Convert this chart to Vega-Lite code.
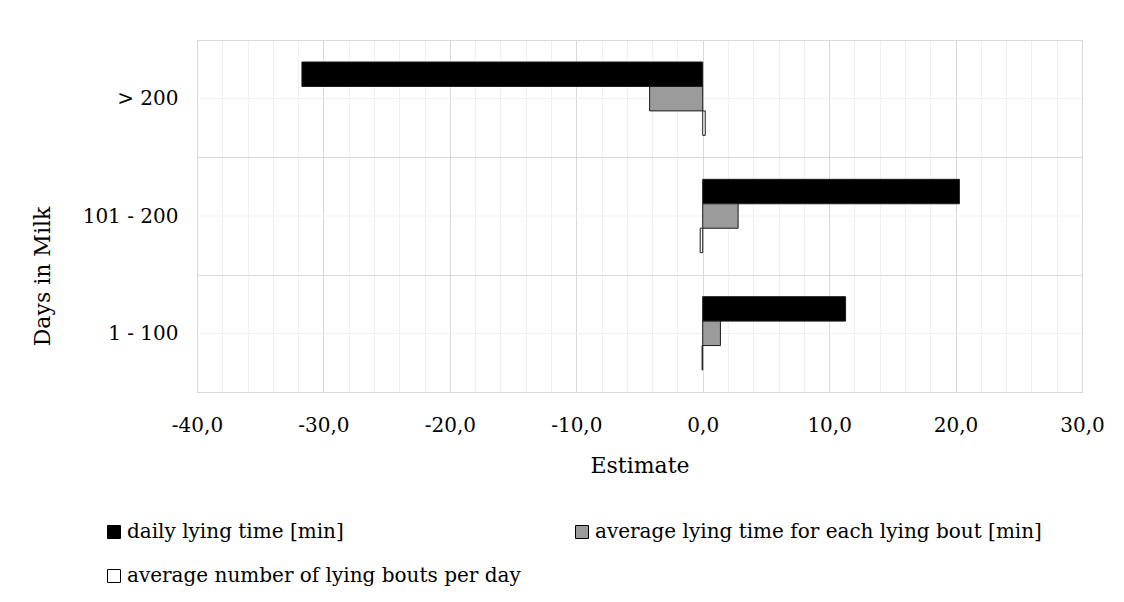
{
  "$schema": "https://vega.github.io/schema/vega-lite/v6.json",
  "autosize": "none",
  "width": 885,
  "height": 352,
  "padding": {"left": 197, "top": 40, "right": 42, "bottom": 210},
  "background": "white",
  "config": {
    "font": "DejaVu Serif",
    "view": {"stroke": "#d9d9d9", "strokeWidth": 1},
    "axis": {"labelFont": "DejaVu Serif", "titleFont": "DejaVu Serif", "labelColor": "#000", "titleColor": "#000", "titleFontWeight": "normal"},
    "legend": {"labelFont": "DejaVu Serif"}
  },
  "datasets": {
    "bars": [
      {"dim": "> 200", "series": "daily lying time [min]", "estimate": -31.7},
      {"dim": "> 200", "series": "average lying time for each lying bout [min]", "estimate": -4.2},
      {"dim": "> 200", "series": "average number of lying bouts per day", "estimate": 0.2},
      {"dim": "101 - 200", "series": "daily lying time [min]", "estimate": 20.3},
      {"dim": "101 - 200", "series": "average lying time for each lying bout [min]", "estimate": 2.8},
      {"dim": "101 - 200", "series": "average number of lying bouts per day", "estimate": -0.2},
      {"dim": "1 - 100", "series": "daily lying time [min]", "estimate": 11.3},
      {"dim": "1 - 100", "series": "average lying time for each lying bout [min]", "estimate": 1.4},
      {"dim": "1 - 100", "series": "average number of lying bouts per day", "estimate": -0.05}
    ],
    "cats": [
      {"dim": "> 200"},
      {"dim": "101 - 200"},
      {"dim": "1 - 100"}
    ]
  },
  "layer": [
    {
      "data": {"name": "cats"},
      "mark": {"type": "rule", "color": "#efefef", "strokeWidth": 1},
      "encoding": {
        "y": {"field": "dim", "type": "nominal"}
      }
    },
    {
      "data": {"name": "bars"},
      "mark": {"type": "bar", "stroke": "#1a1a1a", "strokeWidth": 1},
      "encoding": {
        "y": {
          "field": "dim",
          "type": "nominal",
          "scale": {"domain": ["> 200", "101 - 200", "1 - 100"], "paddingInner": 0, "paddingOuter": 0},
          "axis": {
            "title": "Days in Milk",
            "titleFontSize": 22,
            "labelFontSize": 20,
            "ticks": false,
            "tickSize": 0,
            "labelPadding": 19,
            "domain": false,
            "tickBand": "extent",
            "grid": true,
            "gridColor": "#d9d9d9",
            "titleX": -155,
            "titleY": 236,
            "titleAlign": "center",
            "titleBaseline": "middle",
            "titleAngle": -90
          }
        },
        "yOffset": {
          "field": "series",
          "type": "nominal",
          "scale": {"domain": ["daily lying time [min]", "average lying time for each lying bout [min]", "average number of lying bouts per day"], "paddingInner": 0, "paddingOuter": 0.9}
        },
        "x": {
          "field": "estimate",
          "type": "quantitative",
          "scale": {"domain": [-40, 30], "nice": false, "zero": true},
          "axis": {
            "title": "Estimate",
            "titleFontSize": 22,
            "labelFontSize": 20,
            "values": [-40, -38, -36, -34, -32, -30, -28, -26, -24, -22, -20, -18, -16, -14, -12, -10, -8, -6, -4, -2, 0, 2, 4, 6, 8, 10, 12, 14, 16, 18, 20, 22, 24, 26, 28, 30],
            "labelExpr": "datum.value % 10 === 0 ? replace((datum.value < 0 ? '-' : '') + format(abs(datum.value), '.1f'), '.', ',') : ''",
            "labelOverlap": false,
            "labelBound": false,
            "labelFlush": false,
            "ticks": false,
            "tickSize": 0,
            "labelPadding": 23,
            "domain": false,
            "grid": true,
            "gridColor": {"condition": {"test": "datum.value % 10 === 0", "value": "#d9d9d9"}, "value": "#efefef"},
            "titleY": 73,
            "titleBaseline": "middle"
          }
        },
        "fill": {
          "field": "series",
          "type": "nominal",
          "scale": {"domain": ["daily lying time [min]", "average lying time for each lying bout [min]", "average number of lying bouts per day"], "range": ["#000000", "#9b9b9b", "#ffffff"]},
          "legend": {
            "title": null,
            "orient": "none",
            "legendX": -93,
            "legendY": 482,
            "direction": "horizontal",
            "columns": 2,
            "columnPadding": 51,
            "rowPadding": 24,
            "labelFontSize": 20,
            "labelColor": "#000",
            "symbolType": "square",
            "symbolSize": 169,
            "symbolStrokeColor": "#000",
            "symbolStrokeWidth": 1,
            "labelOffset": 3,
            "labelLimit": 600
          }
        }
      }
    }
  ]
}
